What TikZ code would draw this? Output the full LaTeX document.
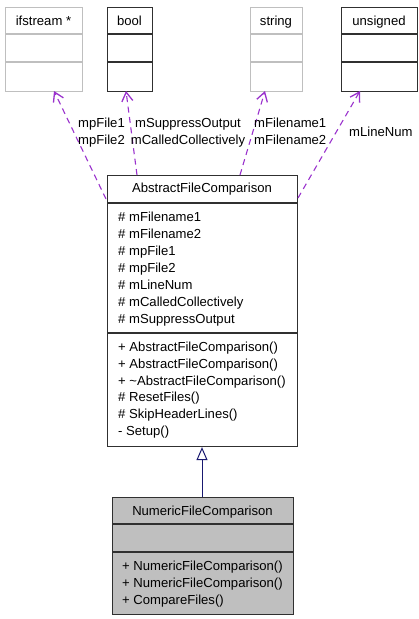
\documentclass[tikz,border=0pt]{standalone}
\usepackage{fontspec}
\setmainfont{Liberation Sans}
\usetikzlibrary{arrows.meta}
\definecolor{usecol}{HTML}{9A32CD}
\definecolor{inhcol}{HTML}{191970}
\definecolor{grayline}{HTML}{BFBFBF}
\definecolor{grayfill}{HTML}{BFBFBF}
\definecolor{boxline}{HTML}{303030}
\begin{document}
\begin{tikzpicture}[x=1pt,y=-1pt,
  every node/.style={font=\fontsize{13.1}{15}\selectfont, inner sep=0pt},
  classbox/.style={draw=boxline, line width=1.1pt, anchor=north west},
  graybox/.style={draw=grayline, line width=1.1pt, anchor=north west},
  lbl/.style={anchor=base west},
  ctr/.style={anchor=base},
  usage/.style={draw=usecol, line width=1.1pt, dash pattern=on 6pt off 4.5pt,
     -{Straight Barb[length=9pt,width=11pt,line width=1.3pt]}},
  inherit/.style={draw=inhcol, line width=1pt,
     -{Triangle[open,length=13pt,width=11pt,fill=white]}}
]
\useasboundingbox (0,0) rectangle (419,619);

% top classes
\node[graybox, minimum width=77pt, minimum height=84pt] (ifs) at (5,7) {};
\draw[grayline, line width=1.1pt] (5,34) -- (82,34) (5,62) -- (82,62);
\node[ctr] (ifsT) at (43.5,25) {ifstream *};

\node[classbox, minimum width=45pt, minimum height=84pt] (bool) at (107,7) {};
\draw[boxline, line width=1.1pt] (107,34) -- (152,34) (107,62) -- (152,62);
\node[ctr] (boolT) at (129.5,25) {bool};

\node[graybox, minimum width=52pt, minimum height=84pt] (str) at (250,7) {};
\draw[grayline, line width=1.1pt] (250,34) -- (302,34) (250,62) -- (302,62);
\node[ctr] (strT) at (276,25) {string};

\node[classbox, minimum width=76pt, minimum height=84pt] (uns) at (341,7) {};
\draw[boxline, line width=1.1pt] (341,34) -- (417,34) (341,62) -- (417,62);
\node[ctr] (unsT) at (379,25) {unsigned};

% AbstractFileComparison
\node[classbox, minimum width=190pt, minimum height=271pt] (abs) at (107,175) {};
\draw[boxline, line width=1.1pt] (107,203) -- (297,203) (107,333) -- (297,333);
\node[ctr] (absT) at (202,192.5) {AbstractFileComparison};
\foreach \t [count=\i from 0] in {\# mFilename1,\# mFilename2,\# mpFile1,\# mpFile2,\# mLineNum,\# mCalledCollectively,\# mSuppressOutput}
  \node[lbl] (absA\i) at (118,221.5+17*\i) {\t};
\foreach \t [count=\i from 0] in {+ AbstractFileComparison(),+ AbstractFileComparison(),+ \textasciitilde AbstractFileComparison(),\# ResetFiles(),\# SkipHeaderLines(),- Setup()}
  \node[lbl] (absM\i) at (118,351.5+16.8*\i) {\t};

% NumericFileComparison
\node[classbox, fill=grayfill, minimum width=181pt, minimum height=117pt] (num) at (112,497) {};
\draw[boxline, line width=1.1pt] (112,524) -- (293,524) (112,552) -- (293,552);
\node[ctr] (numT) at (202.5,515.5) {NumericFileComparison};
\foreach \t [count=\i from 0] in {+ NumericFileComparison(),+ NumericFileComparison(),+ CompareFiles()}
  \node[lbl] (numM\i) at (122,570.5+17*\i) {\t};

% inheritance
\draw[inherit] (num.north -| 202,0) -- (abs.south -| 202,0);

% usage connectors
\coordinate (c1s) at (106,199);
\coordinate (c1e) at (54,91);
\coordinate (c2s) at (137,175);
\coordinate (c2e) at (126,91);
\coordinate (c3s) at (240,175);
\coordinate (c3e) at (265,91);
\coordinate (c4s) at (298,198);
\coordinate (c4e) at (360,91);
\draw[usage] (c1s) -- (c1e);
\draw[usage] (c2s) -- (c2e);
\draw[usage] (c3s) -- (c3e);
\draw[usage] (c4s) -- (c4e);

% labels
\node[lbl] (l1a) at (78,127.5) {mpFile1};
\node[lbl] (l1b) at (78,144.5) {mpFile2};
\node[ctr] (l2a) at (188,127.5) {mSuppressOutput};
\node[ctr] (l2b) at (188,144.5) {mCalledCollectively};
\node[lbl] (l3a) at (254,127.5) {mFilename1};
\node[lbl] (l3b) at (254,144.5) {mFilename2};
\node[lbl] (l4) at (349,136.5) {mLineNum};
\end{tikzpicture}
\end{document}
